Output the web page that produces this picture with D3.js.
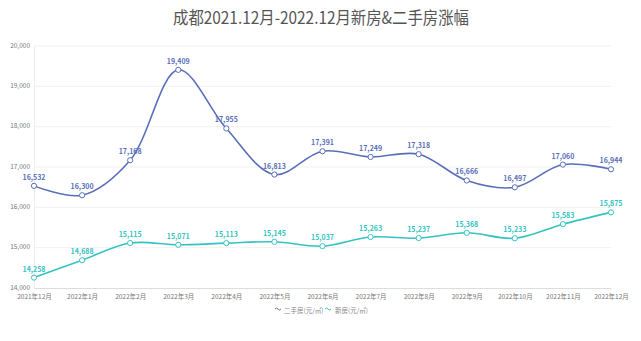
<!DOCTYPE html>
<html>
<head>
<meta charset="utf-8">
<script src="https://cdn.jsdelivr.net/npm/d3@7/dist/d3.min.js"></script>
<style>
  html, body { margin: 0; padding: 0; background: #fff; }
  svg { display: block; }
  text { font-family: "Noto Sans CJK SC", "Noto Sans", sans-serif; }
</style>
</head>
<body>
<svg id="chart" width="641" height="341"></svg>
<script>
// Monthly average prices in Chengdu, Dec 2021 – Dec 2022
const months = ["2021年12月", "2022年1月", "2022年2月", "2022年3月", "2022年4月", "2022年5月",
  "2022年6月", "2022年7月", "2022年8月", "2022年9月", "2022年10月", "2022年11月", "2022年12月"];
const resalePrices = [16532, 16300, 17168, 19409, 17955, 16813, 17391, 17249, 17318, 16666, 16497, 17060, 16944];
const newPrices = [14258, 14688, 15115, 15071, 15113, 15145, 15037, 15263, 15237, 15368, 15233, 15583, 15875];
const yTicks = [14000, 15000, 16000, 17000, 18000, 19000, 20000];
const seriesNames = ["二手房(元/㎡)", "新房(元/㎡)"];
const seriesColors = ["#5a6fb8", "#35c3c1"];

const svg = d3.select("#chart");
const left = 34, right = 611;

const x = d3.scalePoint().domain(months).range([left, right]);
const y = d3.scaleLinear().domain([14000, 20000]).range([288, 46]);

// Title
svg.append("text")
  .attr("x", 321).attr("y", 24)
  .attr("text-anchor", "middle")
  .attr("font-size", 17)
  .attr("fill", "#555")
  .attr("textLength", 296)
  .attr("lengthAdjust", "spacingAndGlyphs")
  .text("成都2021.12月-2022.12月新房&二手房涨幅");

// Horizontal grid
svg.append("g")
  .selectAll("line")
  .data(yTicks.slice(1))
  .join("line")
  .attr("x1", left).attr("x2", right)
  .attr("y1", d => y(d)).attr("y2", d => y(d))
  .attr("stroke", "#f1f1f1").attr("stroke-width", 1);

// Y axis
const yAxis = svg.append("g")
  .attr("transform", `translate(${left},0)`)
  .call(d3.axisLeft(y).tickValues(yTicks).tickFormat(d3.format(",")).tickSize(0).tickPadding(4));
yAxis.select(".domain").attr("stroke", "#eeeeee");
yAxis.selectAll("text").attr("font-size", 6.5).attr("fill", "#777")
  .attr("font-family", "'Noto Sans CJK SC', sans-serif").attr("dy", "0.2em");

// X axis
const xAxis = svg.append("g")
  .attr("transform", `translate(0,${y(14000)})`)
  .call(d3.axisBottom(x).tickSize(0).tickPadding(5));
xAxis.select(".domain").attr("stroke", "#dddddd");
xAxis.selectAll("text").attr("font-size", 6.5).attr("fill", "#777")
  .attr("font-family", "'Noto Sans CJK SC', sans-serif").attr("dy", "0.9em");

const line = d3.line()
  .x((d, i) => x(months[i]))
  .y(d => y(d))
  .curve(d3.curveCatmullRom.alpha(0.5));

const series = [resalePrices, newPrices];
series.forEach((vals, si) => {
  const color = seriesColors[si];
  const g = svg.append("g");
  g.append("path")
    .datum(vals)
    .attr("d", line)
    .attr("fill", "none")
    .attr("stroke", color)
    .attr("stroke-width", 1.6);
  g.selectAll("circle")
    .data(vals)
    .join("circle")
    .attr("cx", (d, i) => x(months[i]))
    .attr("cy", d => y(d))
    .attr("r", 2.6)
    .attr("fill", "#fff")
    .attr("stroke", color)
    .attr("stroke-width", 1);
  g.selectAll("text")
    .data(vals)
    .join("text")
    .attr("x", (d, i) => x(months[i]))
    .attr("y", d => y(d) - 6)
    .attr("text-anchor", "middle")
    .attr("font-size", 7)
    .attr("font-weight", 600)
    .attr("fill", color)
    .text(d => d3.format(",")(d));
});

// Legend
const legendItems = [{ x: 275, tx: 284 }, { x: 325, tx: 335 }];
legendItems.forEach((it, i) => {
  const lg = svg.append("g");
  lg.append("path")
    .attr("d", `M${it.x},${309} q1.5,-2 3,0 t3,0`)
    .attr("fill", "none")
    .attr("stroke", seriesColors[i])
    .attr("stroke-width", 1);
  lg.append("text")
    .attr("x", it.tx).attr("y", 313)
    .attr("font-size", 6.5)
    .attr("fill", "#888")
    .text(seriesNames[i]);
});
</script>
</body>
</html>
